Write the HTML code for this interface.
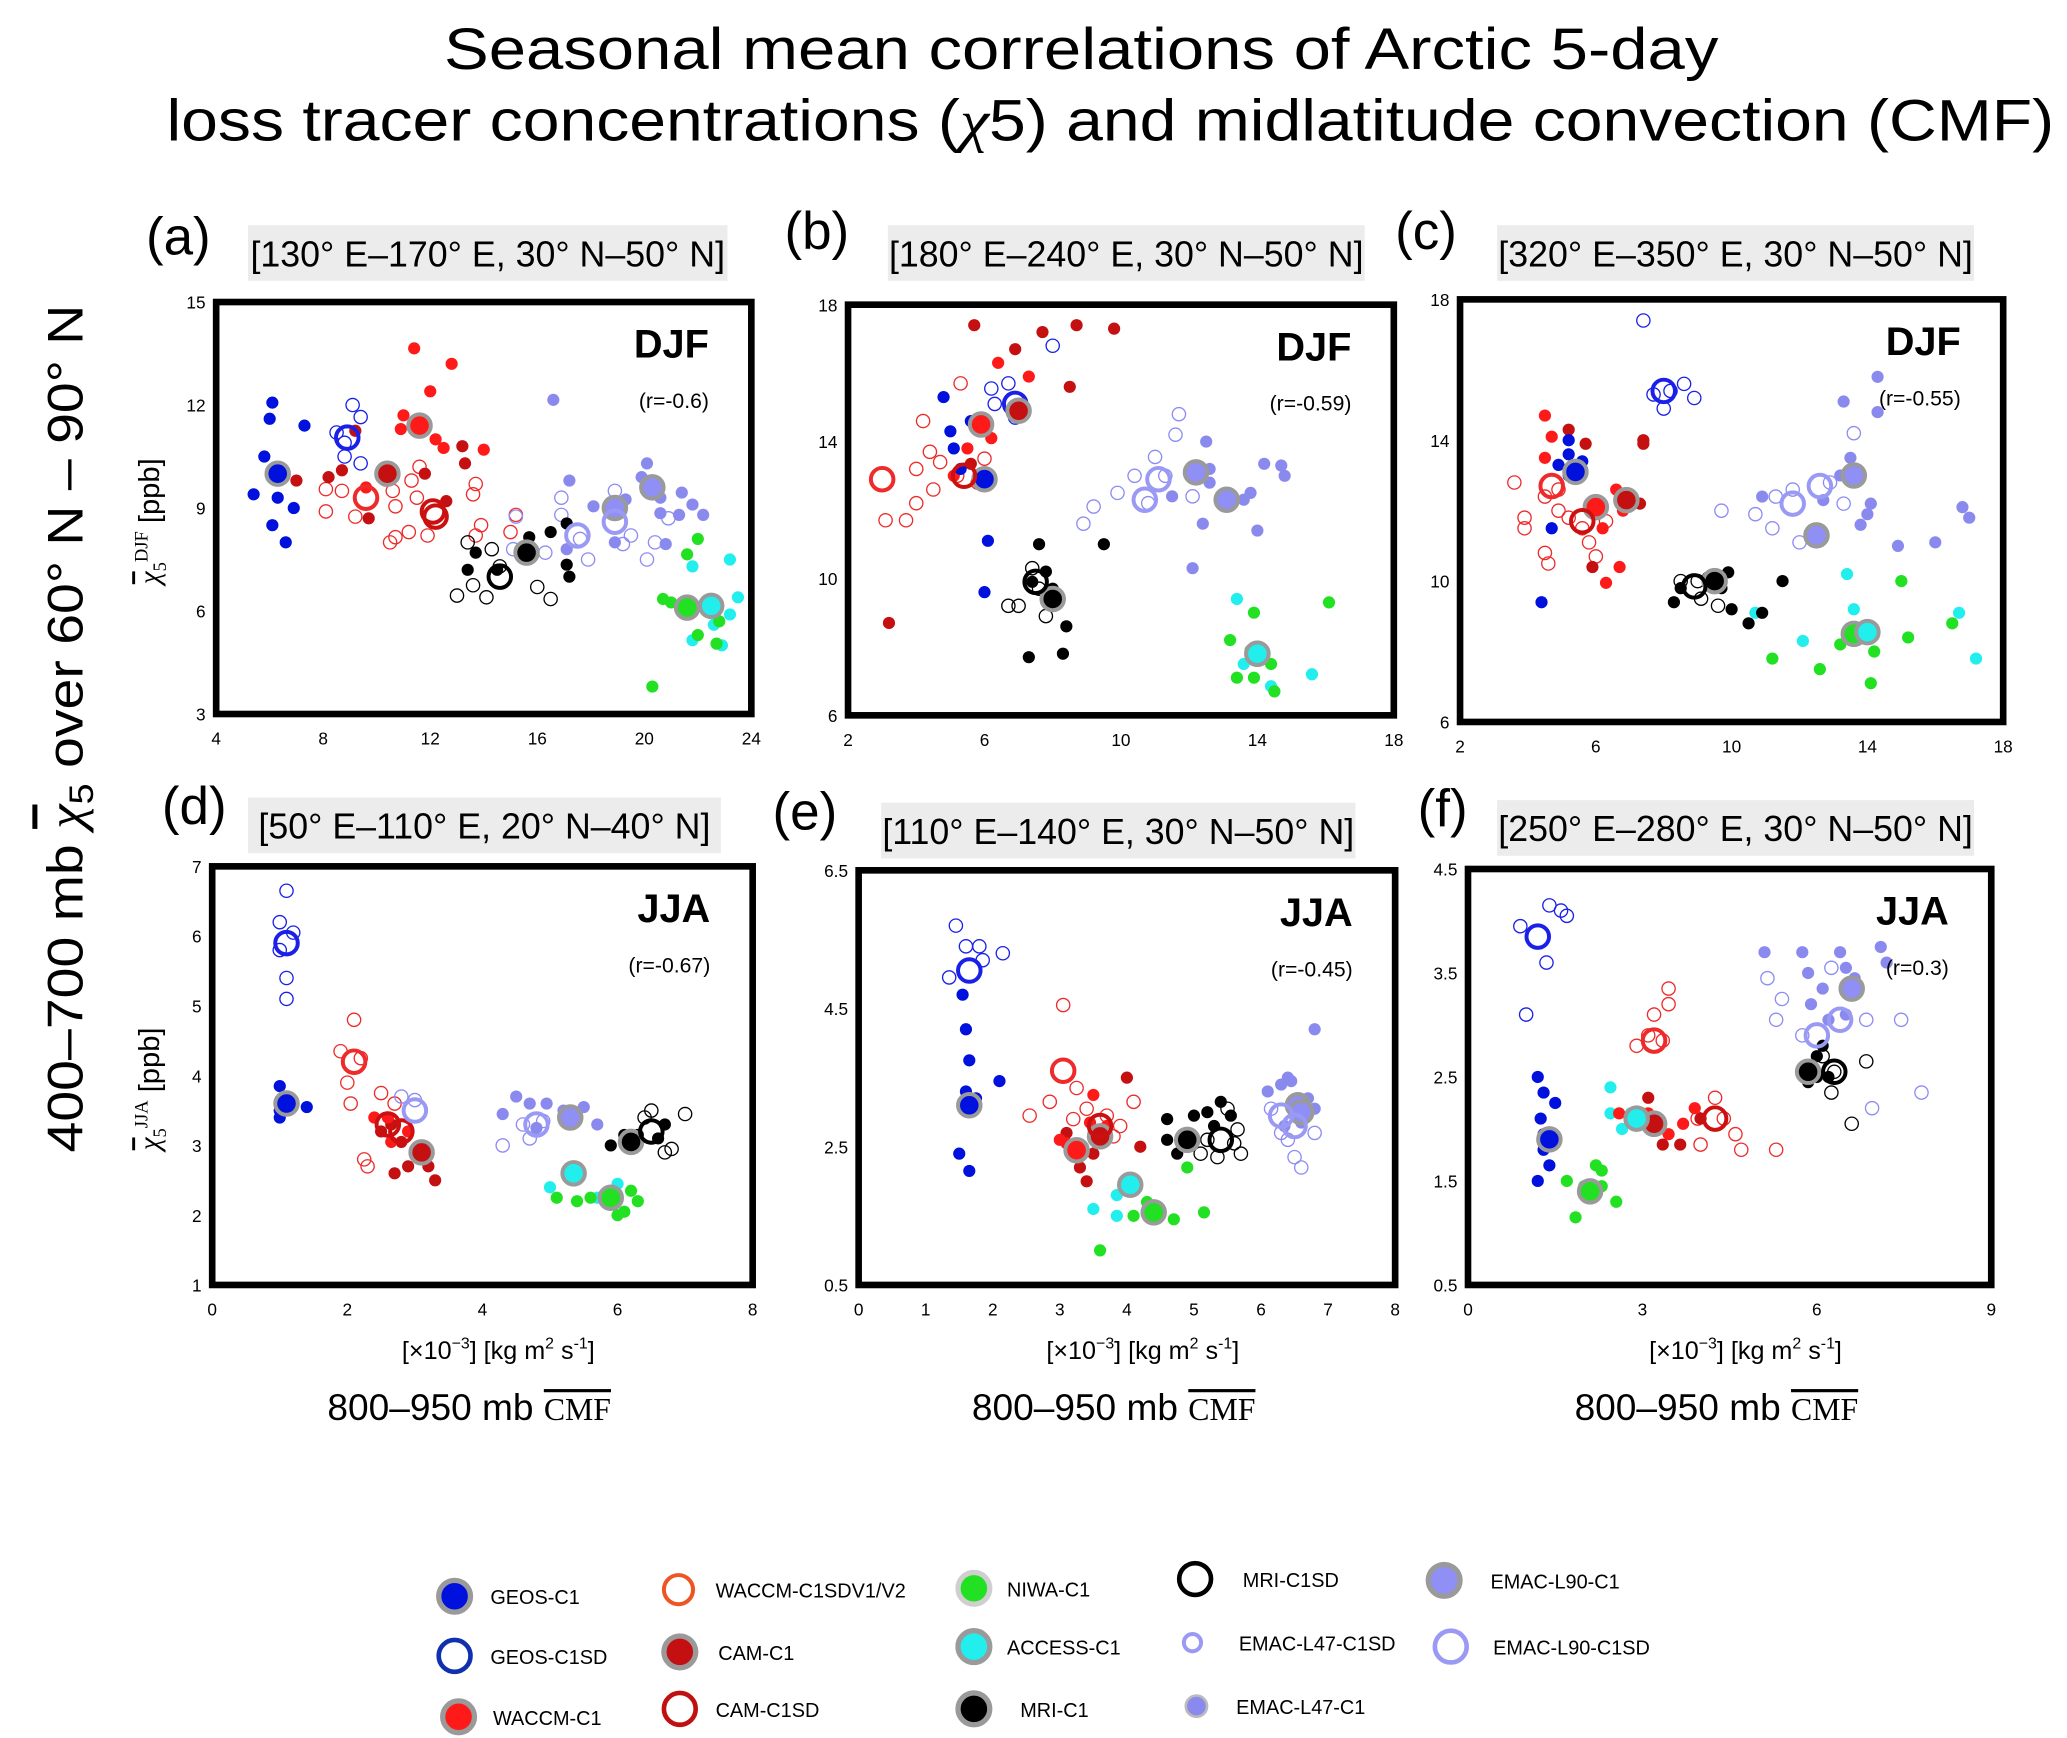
<!DOCTYPE html>
<html><head><meta charset="utf-8"><style>
html,body{margin:0;padding:0;background:#fff;}
svg{display:block;font-family:"Liberation Sans","DejaVu Sans",sans-serif;}
</style></head><body>
<svg id="fig" xmlns="http://www.w3.org/2000/svg" width="2067" height="1738" viewBox="0 0 1560 1312">
<rect x="0" y="0" width="1560" height="1312" fill="#fff"/>
<text x="816" y="52" font-size="44" text-anchor="middle" textLength="962" lengthAdjust="spacingAndGlyphs">Seasonal mean correlations of  Arctic 5-day</text>
<text x="838" y="106" font-size="44" text-anchor="middle" textLength="1425" lengthAdjust="spacingAndGlyphs">loss tracer concentrations (<tspan font-family="Liberation Serif" font-style="italic">χ</tspan>5) and midlatitude convection (CMF)</text>
<text transform="translate(62,550) rotate(-90)" font-size="38" text-anchor="middle" textLength="640" lengthAdjust="spacingAndGlyphs">400–700 mb  <tspan font-family="Liberation Serif" font-style="italic" text-decoration="overline">χ</tspan><tspan font-size="26" dy="8">5</tspan><tspan dy="-8"> over  60° N – 90° N</tspan></text>
<g id="panels"></g>
<g id="legend"></g>
</svg>
<script>
// ---- data (x = CMF [1e-3 kg m2 s-1], y = chi5 [ppb]) ----
const A_GEOS_C1=[[6.1,12.07],[6.0,11.6],[7.3,11.4],[5.8,10.5],[5.4,9.4],[6.3,9.3],[6.9,9.0],[6.1,8.5],[6.6,8.0]];
const A_GEOS_C1SD=[[9.1,12.0],[9.4,11.65],[8.5,11.2],[8.8,10.5],[9.4,10.3],[8.8,10.9]];
const A_WACCM_C1=[[11.4,13.65],[12.8,13.2],[12.0,12.4],[11.0,11.7],[10.9,11.3],[12.2,11.0],[12.5,10.75],[14.0,10.7],[9.6,9.6]];
const A_CAM_C1=[[9.2,11.25],[8.2,9.9],[8.7,10.1],[7.0,9.8],[9.7,8.7],[11.8,10.0],[13.2,10.8],[13.3,10.3],[12.6,9.2]];
const A_WACCM_SD=[[8.1,9.55],[8.7,9.5],[8.1,8.9],[9.2,8.75],[10.7,9.05],[10.6,9.5],[11.3,9.8],[11.6,10.2],[11.5,9.3],[10.5,8.0],[10.7,8.15],[11.2,8.3],[11.9,8.2],[13.7,9.7],[13.6,9.4],[13.9,8.5],[13.7,8.2],[15.2,8.8],[15.0,8.3]];
const A_MRI_C1=[[13.7,7.7],[13.4,7.2],[14.5,7.2],[15.7,8.15],[16.5,8.3],[17.1,8.55],[17.1,7.35],[17.2,7.0]];
const A_MRI_C1SD=[[13.4,8.0],[14.3,7.8],[13.0,6.45],[13.6,6.75],[14.1,6.4],[14.6,7.3],[16.0,6.7],[16.5,6.35]];
const A_EMAC47_C1=[[16.6,12.15],[17.2,9.8],[19.9,9.9],[20.1,10.3],[20.6,9.3],[21.4,9.45],[21.8,9.1],[22.2,8.8],[21.3,8.8],[20.6,8.85],[20.8,7.95],[18.1,9.05],[18.9,8.0],[19.3,9.25],[17.1,7.8]];
const A_EMAC47_SD=[[15.2,8.75],[15.1,7.8],[16.3,7.7],[16.9,9.3],[16.9,8.8],[17.9,7.5],[19.5,8.2],[20.1,7.5],[20.4,8.0],[20.9,8.7],[18.9,9.5],[19.2,7.95],[17.6,8.1]];
const A_NIWA=[[20.7,6.35],[21.0,6.25],[22.0,8.1],[21.6,7.65],[22.0,5.3],[22.7,5.05],[22.8,5.7],[20.3,3.8]];
const A_ACCESS=[[21.8,7.3],[23.2,7.5],[23.5,6.4],[23.2,5.9],[22.6,5.6],[21.8,5.15],[22.9,5.0],[21.6,5.9]];
const A_MEANS=[["geos",6.3,10.0],["geossd",8.9,11.05],["waccm",11.6,11.4],["cam",10.4,10.0],["waccmsd",9.6,9.3],["camsd",12.2,8.75],["camsd",12.1,8.9],["mri",15.6,7.7],["mrisd",14.6,7.0],["e90",18.9,9.0],["e90",20.3,9.6],["e90sd",17.5,8.2],["e90sd",18.9,8.6],["niwa",21.6,6.1],["access",22.5,6.15]];

const B_GEOS_C1=[[4.8,15.3],[5.0,14.3],[5.6,14.6],[5.1,13.8],[6.1,11.1],[6.0,9.6],[5.3,13.2]];
const B_GEOS_C1SD=[[6.2,15.55],[6.7,15.7],[8.0,16.8],[6.9,14.7],[6.3,15.1]];
const B_WACCM_C1=[[6.4,16.3],[7.3,15.9],[6.0,14.6],[6.2,14.1],[5.5,13.8],[5.1,13.0]];
const B_CAM_C1=[[5.7,17.4],[7.7,17.2],[8.7,17.4],[9.8,17.3],[6.9,16.7],[8.5,15.6],[3.2,8.7],[5.6,13.35]];
const B_WACCM_SD=[[3.1,11.7],[3.7,11.7],[4.0,12.2],[4.5,12.6],[4.0,13.2],[4.4,13.7],[4.7,13.4],[5.2,13.0],[5.8,12.8],[4.2,14.6],[6.0,13.5],[5.3,15.7]];
const B_MRI_C1=[[7.6,11.0],[7.4,9.9],[8.0,9.7],[8.4,8.6],[8.3,7.8],[7.3,7.7],[9.5,11.0],[7.8,10.2]];
const B_MRI_C1SD=[[6.7,9.2],[7.0,9.2],[7.8,8.9],[7.4,10.3],[7.6,9.7]];
const B_EMAC47_C1=[[12.5,14.0],[12.6,12.8],[12.6,13.2],[14.2,13.35],[14.7,13.3],[14.8,13.0],[13.6,12.3],[13.8,12.5],[14.0,11.4],[12.1,10.3],[12.4,11.6],[11.5,12.4]];
const B_EMAC47_SD=[[8.9,11.6],[9.2,12.1],[9.9,12.5],[10.4,13.0],[11.0,13.55],[11.6,14.2],[11.7,14.8],[11.3,13.0],[10.8,12.2],[12.1,12.4]];
const B_NIWA=[[13.2,8.2],[13.8,7.9],[14.4,7.5],[13.4,7.1],[13.9,7.1],[14.5,6.7],[16.1,9.3],[13.9,9.0]];
const B_ACCESS=[[13.4,9.4],[14.1,7.9],[14.0,7.6],[15.6,7.2],[14.4,6.85],[13.6,7.5]];
const B_MEANS=[["geos",6.0,12.9],["geossd",6.9,15.1],["waccm",5.9,14.5],["cam",7.0,14.9],["waccmsd",3.0,12.9],["camsd",5.4,13.0],["mri",8.0,9.4],["mrisd",7.5,9.9],["e90",12.2,13.1],["e90",13.1,12.3],["e90sd",10.7,12.3],["e90sd",11.1,12.9],["niwa",14.0,7.8],["access",14.0,7.8]];

const C_GEOS_C1=[[5.2,13.6],[5.2,14.0],[5.6,13.4],[4.9,13.3],[5.2,13.0],[4.7,11.5],[4.4,9.4]];
const C_GEOS_C1SD=[[7.7,15.3],[8.0,14.9],[8.2,15.4],[8.6,15.6],[8.9,15.2],[7.4,17.4]];
const C_WACCM_C1=[[4.5,14.7],[4.7,14.1],[4.5,13.5],[6.6,12.6],[6.8,12.0],[6.2,11.5],[6.7,10.4],[6.3,9.95]];
const C_CAM_C1=[[5.2,14.3],[5.7,13.9],[7.4,14.0],[5.9,10.4],[7.3,12.2],[7.4,13.9]];
const C_WACCM_SD=[[3.6,12.8],[4.5,12.4],[3.9,11.8],[3.9,11.5],[4.9,12.0],[5.2,11.8],[5.6,11.5],[6.3,11.7],[5.8,11.1],[6.0,10.7],[4.5,10.8],[4.6,10.5],[4.9,12.6]];
const C_MRI_C1=[[8.3,9.4],[8.5,9.8],[9.3,10.1],[9.7,9.8],[10.0,9.2],[10.5,8.8],[11.5,10.0],[10.9,9.1],[9.9,10.25]];
const C_MRI_C1SD=[[8.5,10.0],[9.1,9.5],[9.6,9.3],[9.0,10.0]];
const C_EMAC47_C1=[[10.9,12.4],[12.7,12.3],[13.2,13.0],[13.3,15.1],[13.8,11.6],[14.1,12.2],[14.0,11.9],[14.3,15.8],[14.9,11.0],[16.0,11.1],[16.8,12.1],[17.0,11.8],[14.3,14.8],[13.5,13.5]];
const C_EMAC47_SD=[[9.7,12.0],[10.7,11.9],[11.3,12.4],[11.8,12.6],[12.9,12.8],[13.6,14.2],[12.0,11.1],[11.2,11.5],[13.3,12.2]];
const C_NIWA=[[11.2,7.8],[12.6,7.5],[13.2,8.2],[13.8,8.5],[14.2,8.0],[14.1,7.1],[15.0,10.0],[16.5,8.8],[15.2,8.4]];
const C_ACCESS=[[10.7,9.1],[12.1,8.3],[13.6,9.2],[14.0,8.5],[16.7,9.1],[17.2,7.8],[13.4,10.2]];
const C_MEANS=[["geos",5.4,13.1],["geossd",8.0,15.4],["waccm",6.0,12.1],["cam",6.9,12.3],["waccmsd",4.7,12.7],["camsd",5.6,11.7],["mri",9.5,10.0],["mrisd",8.9,9.85],["e90",13.6,13.0],["e90",12.5,11.3],["e90sd",11.8,12.2],["e90sd",12.6,12.7],["niwa",13.6,8.5],["access",14.0,8.55]];

const D_GEOS_C1=[[1.0,3.85],[1.0,3.5],[1.1,3.7],[1.4,3.55],[1.0,3.4]];
const D_GEOS_C1SD=[[1.1,6.65],[1.0,6.2],[1.1,5.4],[1.1,5.1],[1.2,6.05],[1.0,5.8]];
const D_WACCM_C1=[[2.4,3.4],[2.65,3.05],[2.6,3.4],[2.9,3.2]];
const D_CAM_C1=[[2.5,3.2],[2.8,3.05],[3.05,2.95],[3.2,2.7],[3.3,2.5],[2.9,2.7],[2.7,2.6],[2.65,3.3]];
const D_WACCM_SD=[[2.1,4.8],[1.9,4.35],[2.2,4.25],[2.0,3.9],[2.05,3.6],[2.5,3.75],[2.25,2.8],[2.3,2.7],[2.7,3.6]];
const D_MRI_C1=[[6.1,3.15],[5.9,3.0],[6.3,3.15],[6.6,3.1],[6.7,3.3]];
const D_MRI_C1SD=[[6.4,3.4],[6.7,2.9],[6.5,3.5],[7.0,3.45],[6.8,2.95]];
const D_EMAC47_C1=[[4.5,3.7],[4.7,3.6],[4.95,3.6],[5.2,3.5],[5.5,3.55],[5.7,3.3],[4.8,3.25],[5.4,3.4],[4.3,3.45]];
const D_EMAC47_SD=[[4.3,3.0],[4.6,3.3],[4.9,3.35],[2.8,3.7],[3.0,3.65],[4.7,3.1]];
const D_NIWA=[[5.1,2.25],[5.4,2.2],[5.6,2.25],[5.9,2.15],[6.1,2.05],[6.2,2.35],[6.3,2.2],[6.0,2.0]];
const D_ACCESS=[[5.0,2.4],[5.35,2.6],[5.7,2.25],[6.0,2.45]];
const D_MEANS=[["geos",1.1,3.6],["geossd",1.1,5.9],["cam",3.1,2.9],["waccmsd",2.1,4.2],["camsd",2.6,3.3],["camsd",2.8,3.2],["e90",5.3,3.4],["e90sd",4.8,3.3],["e90sd",3.0,3.5],["niwa",5.9,2.25],["access",5.35,2.6],["mri",6.2,3.05],["mrisd",6.5,3.2]];

const E_GEOS_C1=[[1.55,4.7],[1.6,4.2],[1.65,3.75],[1.6,3.3],[1.75,3.2],[2.1,3.45],[1.5,2.4],[1.65,2.15]];
const E_GEOS_C1SD=[[1.45,5.7],[1.6,5.4],[1.8,5.4],[2.15,5.3],[1.35,4.95],[1.85,5.2]];
const E_WACCM_C1=[[3.0,2.6],[3.1,2.55],[3.3,2.4],[3.6,2.55],[3.7,2.8],[3.5,3.25],[3.45,2.85]];
const E_CAM_C1=[[3.1,2.7],[3.3,2.2],[3.5,2.4],[4.0,3.5],[4.2,2.5],[3.4,2.0]];
const E_WACCM_SD=[[3.05,4.55],[2.55,2.95],[2.85,3.15],[3.2,2.9],[3.4,3.05],[3.7,2.95],[3.9,2.8],[4.1,3.15],[3.8,2.65],[3.25,3.35]];
const E_MRI_C1=[[4.6,2.9],[4.75,2.4],[5.0,2.95],[5.2,3.0],[5.3,2.8],[5.55,2.95],[5.4,3.15],[4.6,2.6]];
const E_MRI_C1SD=[[5.1,2.4],[5.35,2.35],[5.6,2.55],[5.7,2.4],[5.5,3.05],[5.65,2.75],[5.2,2.6]];
const E_EMAC47_C1=[[6.1,3.3],[6.3,3.4],[6.4,3.5],[6.55,3.2],[6.7,3.2],[6.8,3.05],[6.8,4.2],[6.35,2.8],[6.6,2.85],[6.45,3.45]];
const E_EMAC47_SD=[[6.4,2.6],[6.5,2.35],[6.6,2.2],[6.3,2.7],[6.8,2.7],[6.15,3.05]];
const E_NIWA=[[4.45,1.55],[4.7,1.45],[4.3,1.7],[4.1,1.5],[3.6,1.0],[5.15,1.55],[4.9,2.2]];
const E_ACCESS=[[3.5,1.6],[3.85,1.8],[4.05,1.95],[3.85,1.5]];
const E_MEANS=[["geos",1.65,3.1],["geossd",1.65,5.05],["waccm",3.25,2.45],["cam",3.6,2.65],["waccmsd",3.05,3.6],["camsd",3.6,2.8],["niwa",4.4,1.55],["access",4.05,1.95],["mri",4.9,2.6],["mrisd",5.4,2.6],["e90",6.55,3.1],["e90",6.6,3.0],["e90sd",6.5,2.8],["e90sd",6.3,2.95]];

const F_GEOS_C1=[[1.2,2.5],[1.3,2.35],[1.25,2.1],[1.5,2.25],[1.3,1.8],[1.2,1.5],[1.4,1.65],[1.3,1.95]];
const F_GEOS_C1SD=[[0.9,3.95],[1.4,4.15],[1.6,4.1],[1.7,4.05],[1.35,3.6],[1.0,3.1]];
const F_WACCM_C1=[[2.6,2.15],[3.1,2.15],[3.7,2.05],[3.9,2.2],[3.45,1.95]];
const F_CAM_C1=[[2.9,2.1],[3.1,2.3],[3.35,1.85],[3.65,1.85],[4.0,2.1]];
const F_WACCM_SD=[[2.9,2.8],[3.1,2.9],[3.2,3.1],[3.45,3.35],[3.45,3.2],[3.35,2.85],[4.25,2.3],[4.4,2.1],[4.6,1.95],[4.0,1.85],[4.7,1.8],[5.3,1.8],[3.95,2.1]];
const F_MRI_C1=[[5.8,2.55],[6.0,2.5],[5.85,2.45],[6.0,2.7],[6.2,2.5],[6.1,2.8]];
const F_MRI_C1SD=[[6.3,2.55],[6.25,2.35],[6.6,2.05],[6.85,2.65],[6.1,2.7]];
const F_EMAC47_C1=[[5.1,3.7],[5.75,3.7],[6.4,3.7],[6.5,3.55],[6.65,3.45],[6.1,3.35],[5.9,3.2],[6.2,3.05],[7.2,3.6],[7.1,3.75],[6.5,3.1],[5.85,3.5]];
const F_EMAC47_SD=[[5.15,3.45],[5.4,3.25],[5.3,3.05],[5.75,2.9],[6.6,3.3],[6.85,3.05],[6.95,2.2],[7.45,3.05],[7.8,2.35],[6.25,3.55]];
const F_NIWA=[[1.7,1.5],[2.0,1.45],[2.2,1.65],[2.3,1.45],[2.55,1.3],[1.85,1.15],[2.3,1.6]];
const F_ACCESS=[[2.45,2.4],[2.45,2.15],[2.65,2.0],[2.8,2.15],[3.0,2.15]];
const F_MEANS=[["geos",1.4,1.9],["geossd",1.2,3.85],["waccm",3.2,2.05],["cam",3.2,2.05],["waccmsd",3.2,2.85],["camsd",4.25,2.1],["niwa",2.1,1.4],["access",2.9,2.1],["mri",5.85,2.55],["mrisd",6.3,2.55],["e90",6.6,3.35],["e90sd",6.0,2.9],["e90sd",6.4,3.05]];

const A_XTICKS=[4,8,12,16,20,24], A_YTICKS=[3,6,9,12,15];
const B_XTICKS=[2,6,10,14,18], B_YTICKS=[6,10,14,18];
const C_XTICKS=[2,6,10,14,18], C_YTICKS=[6,10,14,18];
const D_XTICKS=[0,2,4,6,8], D_YTICKS=[1,2,3,4,5,6,7];
const E_XTICKS=[0,1,2,3,4,5,6,7,8], E_YTICKS=[0.5,2.5,4.5,6.5];
const F_XTICKS=[0,3,6,9], F_YTICKS=[0.5,1.5,2.5,3.5,4.5];
const R_LABELS=["(r=-0.6)","(r=-0.59)","(r=-0.55)","(r=-0.67)","(r=-0.45)","(r=0.3)"];

// ---- styles ----
const ST={
 geos:{c:"#0010dd",fill:true}, geossd:{c:"#1a20e8",fill:false},
 waccm:{c:"#ff1a1a",fill:true}, waccmsd:{c:"#ee2a2a",fill:false},
 cam:{c:"#c41010",fill:true}, camsd:{c:"#cc1010",fill:false},
 niwa:{c:"#22e022",fill:true}, access:{c:"#22eeee",fill:true},
 mri:{c:"#000",fill:true}, mrisd:{c:"#000",fill:false},
 e47:{c:"#8a8aee",fill:true}, e47sd:{c:"#8c8cf5",fill:false},
 e90:{c:"#8f8ff5",fill:true}, e90sd:{c:"#9a9af5",fill:false}
};
const NS="http://www.w3.org/2000/svg";
function mk(tag,attrs,parent){const e=document.createElementNS(NS,tag);for(const k in attrs)e.setAttribute(k,attrs[k]);if(parent)parent.appendChild(e);return e;}

const PANELS=[
 {id:"a",L:163,R:567,T:228,B:539,xd:[4,24],yd:[3,15],xt:A_XTICKS,yt:A_YTICKS,season:"DJF",region:"[130° E–170° E, 30° N–50° N]",bx:187,bw:362,by:170,lab:"(a)",lx:110,ly:192,
  s:{geos:A_GEOS_C1,geossd:A_GEOS_C1SD,waccm:A_WACCM_C1,cam:A_CAM_C1,waccmsd:A_WACCM_SD,mri:A_MRI_C1,mrisd:A_MRI_C1SD,e47:A_EMAC47_C1,e47sd:A_EMAC47_SD,niwa:A_NIWA,access:A_ACCESS},m:A_MEANS},
 {id:"b",L:640,R:1052,T:230,B:540,xd:[2,18],yd:[6,18],xt:B_XTICKS,yt:B_YTICKS,season:"DJF",region:"[180° E–240° E, 30° N–50° N]",bx:670,bw:360,by:170,lab:"(b)",lx:592,ly:188,
  s:{geos:B_GEOS_C1,geossd:B_GEOS_C1SD,waccm:B_WACCM_C1,cam:B_CAM_C1,waccmsd:B_WACCM_SD,mri:B_MRI_C1,mrisd:B_MRI_C1SD,e47:B_EMAC47_C1,e47sd:B_EMAC47_SD,niwa:B_NIWA,access:B_ACCESS},m:B_MEANS},
 {id:"c",L:1102,R:1512,T:226,B:545,xd:[2,18],yd:[6,18],xt:C_XTICKS,yt:C_YTICKS,season:"DJF",region:"[320° E–350° E, 30° N–50° N]",bx:1130,bw:360,by:170,lab:"(c)",lx:1053,ly:188,
  s:{geos:C_GEOS_C1,geossd:C_GEOS_C1SD,waccm:C_WACCM_C1,cam:C_CAM_C1,waccmsd:C_WACCM_SD,mri:C_MRI_C1,mrisd:C_MRI_C1SD,e47:C_EMAC47_C1,e47sd:C_EMAC47_SD,niwa:C_NIWA,access:C_ACCESS},m:C_MEANS},
 {id:"d",L:160,R:568,T:654,B:970,xd:[0,8],yd:[1,7],xt:D_XTICKS,yt:D_YTICKS,season:"JJA",region:"[50° E–110° E, 20° N–40° N]",bx:187,bw:357,by:602,lab:"(d)",lx:122,ly:622,
  s:{geos:D_GEOS_C1,geossd:D_GEOS_C1SD,waccm:D_WACCM_C1,cam:D_CAM_C1,waccmsd:D_WACCM_SD,mri:D_MRI_C1,mrisd:D_MRI_C1SD,e47:D_EMAC47_C1,e47sd:D_EMAC47_SD,niwa:D_NIWA,access:D_ACCESS},m:D_MEANS},
 {id:"e",L:648,R:1053,T:657,B:970,xd:[0,8],yd:[0.5,6.5],xt:E_XTICKS,yt:E_YTICKS,season:"JJA",region:"[110° E–140° E, 30° N–50° N]",bx:665,bw:358,by:606,lab:"(e)",lx:583,ly:626,
  s:{geos:E_GEOS_C1,geossd:E_GEOS_C1SD,waccm:E_WACCM_C1,cam:E_CAM_C1,waccmsd:E_WACCM_SD,mri:E_MRI_C1,mrisd:E_MRI_C1SD,e47:E_EMAC47_C1,e47sd:E_EMAC47_SD,niwa:E_NIWA,access:E_ACCESS},m:E_MEANS},
 {id:"f",L:1108,R:1503,T:656,B:970,xd:[0,9],yd:[0.5,4.5],xt:F_XTICKS,yt:F_YTICKS,season:"JJA",region:"[250° E–280° E, 30° N–50° N]",bx:1130,bw:360,by:604,lab:"(f)",lx:1070,ly:624,
  s:{geos:F_GEOS_C1,geossd:F_GEOS_C1SD,waccm:F_WACCM_C1,cam:F_CAM_C1,waccmsd:F_WACCM_SD,mri:F_MRI_C1,mrisd:F_MRI_C1SD,e47:F_EMAC47_C1,e47sd:F_EMAC47_SD,niwa:F_NIWA,access:F_ACCESS},m:F_MEANS}
];

const root=document.getElementById("panels");
PANELS.forEach((p,i)=>{
  const g=mk("g",{},root);
  
  
  const sx=v=>p.L+(v-p.xd[0])/(p.xd[1]-p.xd[0])*(p.R-p.L);
  const sy=v=>p.B-(v-p.yd[0])/(p.yd[1]-p.yd[0])*(p.B-p.T);
  const rb=mk("rect",{x:p.bx,y:p.by,width:p.bw,height:42,fill:"#ececec"},g);
  
  
  const rt=mk("text",{x:p.bx+p.bw/2,y:p.by+31,"font-size":27,"text-anchor":"middle"},g);rt.textContent=p.region;
  
  
  const pl=mk("text",{x:p.lx,y:p.ly,"font-size":40},g);pl.textContent=p.lab;
  
  
  const order=["waccmsd","e47sd","mrisd","geossd","e47","access","niwa","mri","cam","waccm","geos"];
  order.forEach(k=>{
    const st=ST[k];
    (p.s[k]||[]).forEach(pt=>{
      const c=mk("circle",{cx:sx(pt[0]),cy:sy(pt[1]),r:st.fill?4.6:5,fill:st.fill?st.c:"none",stroke:st.c,"stroke-width":st.fill?0:1},g);
      
      
    });
  });
  p.m.forEach(mm=>{
    const st=ST[mm[0]];
    const c=st.fill?mk("circle",{cx:sx(mm[1]),cy:sy(mm[2]),r:8.5,fill:st.c,stroke:"#9a9a9a","stroke-width":3},g)
                   :mk("circle",{cx:sx(mm[1]),cy:sy(mm[2]),r:8.5,fill:"none",stroke:st.c,"stroke-width":3},g);
    
    
  });
  const fr=mk("rect",{x:p.L,y:p.T,width:p.R-p.L,height:p.B-p.T,fill:"none",stroke:"#000","stroke-width":5},g);
  
  
  p.xt.forEach(v=>{
    const t=mk("text",{x:sx(v),y:p.B+23,"font-size":13,"text-anchor":"middle"},g);t.textContent=v;
    
    
  });
  p.yt.forEach(v=>{
    const t=mk("text",{x:p.L-8,y:sy(v)+5,"font-size":13,"text-anchor":"end"},g);t.textContent=v;
    
    
  });
  const se=mk("text",{x:p.R-32,y:p.T+42,"font-size":30,"font-weight":"bold","text-anchor":"end"},g);se.textContent=p.season;
  
  
  const rr=mk("text",{x:p.R-32,y:p.T+80,"font-size":16,"text-anchor":"end"},g);rr.textContent=R_LABELS[i];
  
  
  if(p.id==="a"||p.id==="d"){
    const yl=mk("text",{transform:`translate(120,${(p.T+p.B)/2+10}) rotate(-90)`,"font-size":22,"text-anchor":"middle"},g);
    yl.innerHTML=`<tspan font-family="Liberation Serif" font-style="italic" text-decoration="overline">χ</tspan><tspan font-family="Liberation Serif" font-size="14" dy="5">5</tspan><tspan font-family="Liberation Serif" font-size="14" dy="-14">${p.season}</tspan><tspan dy="9">   [ppb]</tspan>`;
    
    
  }
  if(p.B>900){
    const cx=(p.L+p.R)/2;
    const u=mk("text",{x:cx+12,y:1026,"font-size":19,"text-anchor":"middle"},g);
    u.innerHTML='[×10<tspan font-size="12" dy="-8">−3</tspan><tspan dy="8">]   [kg m</tspan><tspan font-size="12" dy="-8">2</tspan><tspan dy="8"> s</tspan><tspan font-size="12" dy="-8">-1</tspan><tspan dy="8">]</tspan>';
    
    
    const xl=mk("text",{x:cx-10,y:1072,"font-size":28,"text-anchor":"middle"},g);
    xl.innerHTML='800–950 mb <tspan font-family="Liberation Serif" font-size="24" text-decoration="overline">CMF</tspan>';
    
    
  }
});

const LEG=[
 ["GEOS-C1","geos",343,1205,370],["GEOS-C1SD","geossd",343,1250,370],["WACCM-C1","waccm",346,1296,372],
 ["WACCM-C1SDV1/V2","waccmsdL",512,1200,540],["CAM-C1","cam",513,1247,542],["CAM-C1SD","camsd",513,1290,540],
 ["NIWA-C1","niwa",735,1199,760],["ACCESS-C1","access",735,1243,760],["MRI-C1","mri",735,1290,770],
 ["MRI-C1SD","mrisd",902,1192,938],["EMAC-L47-C1SD","e47sdL",900,1240,935],["EMAC-L47-C1","e47L",903,1288,933],
 ["EMAC-L90-C1","e90",1090,1193,1125],["EMAC-L90-C1SD","e90sd",1095,1243,1127]
];
const lg=document.getElementById("legend");
LEG.forEach(e=>{
  const g=mk("g",{},lg);
  
  
  const k=e[1];
  if(k==="waccmsdL") mk("circle",{cx:e[2],cy:e[3],r:11,fill:"none",stroke:"#ee5522","stroke-width":3},g);
  else if(k==="e47sdL") mk("circle",{cx:e[2],cy:e[3],r:6.5,fill:"none",stroke:"#9a9af5","stroke-width":3},g);
  else if(k==="e47L") mk("circle",{cx:e[2],cy:e[3],r:8,fill:"#8a8aee",stroke:"#bbb","stroke-width":2},g);
  else { const st=ST[k];
    if(st.fill) mk("circle",{cx:e[2],cy:e[3],r:12,fill:st.c,stroke:k==="niwa"?"#cfcfcf":"#9a9a9a","stroke-width":4},g);
    else mk("circle",{cx:e[2],cy:e[3],r:12,fill:"none",stroke:k==="geossd"?"#1030b0":(k==="camsd"?"#c01010":st.c),"stroke-width":3.5},g);
  }
  const t=mk("text",{x:e[4],y:e[3]+6,"font-size":15},g);t.textContent=e[0];
});
</script>
</body></html>
